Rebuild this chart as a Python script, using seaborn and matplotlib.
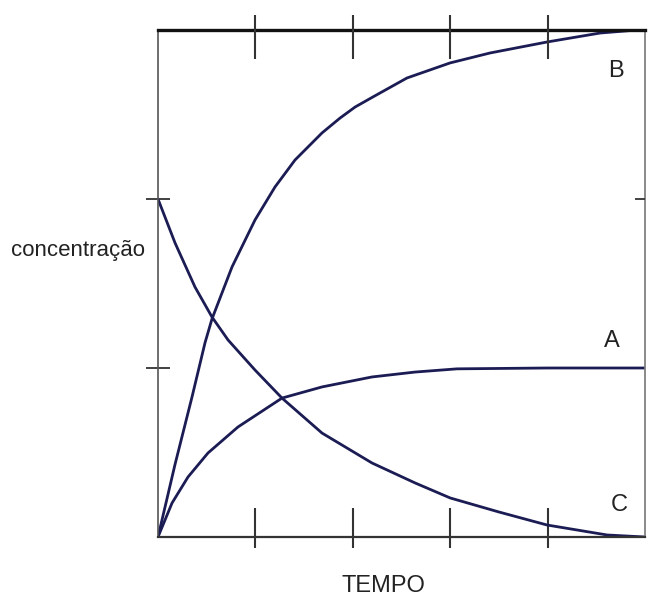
import numpy as np
import pandas as pd
import matplotlib
matplotlib.use("Agg")
import matplotlib.pyplot as plt
import seaborn as sns

# Values
tempo_A = [0, 0.144, 0.308, 0.513, 0.821, 1.273, 1.684, 2.197, 2.639, 3.07, 4.0, 5.0]
conc_A = [0, 0.201, 0.355, 0.497, 0.651, 0.822, 0.888, 0.947, 0.976, 0.995, 1.0, 1.0]

tempo_B = [0, 0.175, 0.349, 0.483, 0.554, 0.760, 0.996, 1.201, 1.407, 1.684, 1.869,
           2.023, 2.207, 2.556, 2.998, 3.409, 3.994, 4.538, 4.877, 5.0]
conc_B = [0, 0.430, 0.828, 1.150, 1.290, 1.598, 1.876, 2.071, 2.231, 2.391, 2.479,
          2.544, 2.604, 2.716, 2.805, 2.864, 2.929, 2.982, 2.998, 3.0]

tempo_C = [0, 0.175, 0.380, 0.554, 0.719, 0.996, 1.273, 1.684, 2.197, 2.639, 3.0,
           3.5, 3.994, 4.61, 5.0]
conc_C = [2.0, 1.740, 1.479, 1.302, 1.166, 0.988, 0.822, 0.615, 0.438, 0.320, 0.231,
          0.148, 0.071, 0.012, 0.0]

series_names = ["A", "B", "C"]
x_ticks = [1, 2, 3, 4]
y_ticks_left = [1, 2]
y_ticks_right = [2]

df = pd.concat([
    pd.DataFrame({"tempo": tempo_A, "conc": conc_A, "serie": "A"}),
    pd.DataFrame({"tempo": tempo_B, "conc": conc_B, "serie": "B"}),
    pd.DataFrame({"tempo": tempo_C, "conc": conc_C, "serie": "C"}),
])

sns.set_style("white")
plt.rcParams['font.family'] = ['Liberation Sans', 'DejaVu Sans']

fig = plt.figure(figsize=(6.48, 6.02), dpi=100)
ax = fig.add_axes([158/648, 65/602, 487/648, 507/602])

line_color = "#1c1c55"
sns.lineplot(data=df, x="tempo", y="conc", units="serie", estimator=None,
             color=line_color, linewidth=2.0, ax=ax, sort=False, legend=False)
for ln in ax.get_lines():
    ln.set_solid_joinstyle("round")
    ln.set_solid_capstyle("round")

ax.set_xlim(0, 5)
ax.set_ylim(0, 3)

# spines
ax.spines["top"].set_linewidth(2.4)
ax.spines["top"].set_color("#111111")
ax.spines["bottom"].set_linewidth(1.6)
ax.spines["bottom"].set_color("#333333")
ax.spines["left"].set_linewidth(1.2)
ax.spines["left"].set_color("#555555")
ax.spines["right"].set_linewidth(1.2)
ax.spines["right"].set_color("#777777")
for s in ax.spines.values():
    s.set_visible(True)

# x ticks bottom: inside long (major), outside short (minor)
ax.xaxis.remove_overlapping_locs = False
ax.set_xticks(x_ticks)
ax.set_xticks(x_ticks, minor=True)
ax.tick_params(axis="x", which="major", direction="in", length=21, width=1.5,
               color="#333333", bottom=True, top=False, labelbottom=False)
ax.tick_params(axis="x", which="minor", direction="out", length=8, width=1.5,
               color="#333333", bottom=True, top=False)

# y ticks left
ax.set_yticks(y_ticks_left)
ax.tick_params(axis="y", which="major", direction="inout", length=17, width=1.3,
               color="#333333", left=True, right=False, labelleft=False)

# top ticks via twin axes
axt = ax.twiny()
axt.set_xlim(0, 5)
axt.xaxis.remove_overlapping_locs = False
axt.set_xticks(x_ticks)
axt.set_xticks(x_ticks, minor=True)
axt.tick_params(axis="x", which="major", direction="in", length=21, width=1.5,
                color="#333333", top=True, bottom=False, labeltop=False)
axt.tick_params(axis="x", which="minor", direction="out", length=11, width=1.5,
                color="#333333", top=True, bottom=False)
for s in axt.spines.values():
    s.set_visible(False)

# right ticks via twin axes
axr = ax.twinx()
axr.set_ylim(0, 3)
axr.set_yticks(y_ticks_right)
axr.tick_params(axis="y", which="major", direction="in", length=7, width=1.3,
                color="#333333", right=True, left=False, labelright=False)
for s in axr.spines.values():
    s.set_visible(False)

# labels
ax.set_ylabel("concentração", rotation=0, ha="center", va="center",
              fontsize=16, color="#222222")
ax.yaxis.set_label_coords(-0.165, 0.566)
ax.set_xlabel("TEMPO", fontsize=17, color="#222222", va="center")
ax.xaxis.set_label_coords(0.462, -0.097)

# curve labels
for name, tx, ty in zip(series_names, [4.66, 4.70, 4.74], [1.16, 2.76, 0.19]):
    ax.text(tx, ty, name, ha="center", va="center", fontsize=17, color="#222222")

fig.savefig("out.png", dpi=100, facecolor="white")
